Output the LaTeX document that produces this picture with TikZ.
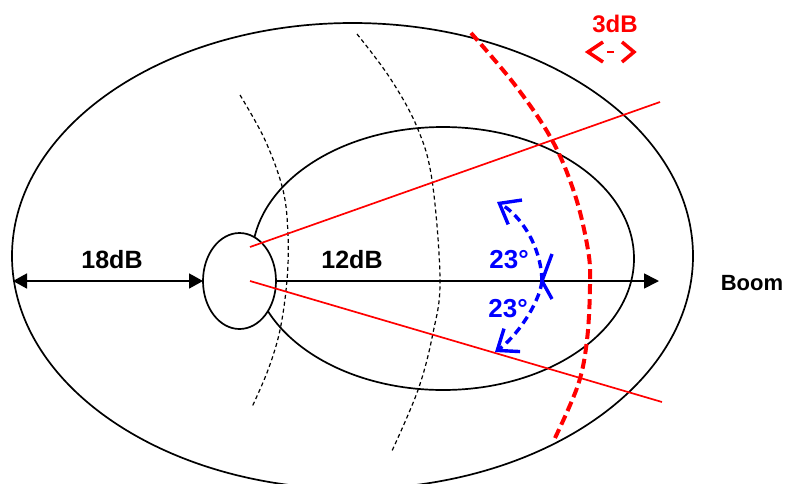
\documentclass[tikz,border=0pt]{standalone}
\usepackage{fontspec}
\setmainfont{Liberation Sans}
\usetikzlibrary{shapes.geometric,arrows.meta}
\tikzset{
  ell/.style={ellipse, draw=black, line width=1.7pt, inner sep=0pt, outer sep=0pt},
  blackdash/.style={draw=black, line width=1.2pt, dash pattern=on 4pt off 3pt},
  reddash/.style={draw=red, line width=4pt, dash pattern=on 10pt off 5pt},
  redline/.style={draw=red, line width=1.7pt},
  bluedash/.style={draw=blue, line width=3.4pt, dash pattern=on 8pt off 5pt, -{Straight Barb[length=18pt,width=28pt,line width=3.4pt]}},
  bluestroke/.style={draw=blue, line width=3.4pt},
  lbl/.style={font=\bfseries\fontsize{25}{25}\selectfont, anchor=base, inner sep=0pt}
}
\begin{document}
\begin{tikzpicture}[x=1pt,y=-1pt]
\clip (0,0) rectangle (787,483);
\fill[white] (0,0) rectangle (787,483);
% ellipses
\node[ell, minimum width=681pt, minimum height=466pt] (outer) at (352.5,256) {};
\node[ell, minimum width=382pt, minimum height=263pt] (inner) at (443,258.5) {};
% dashed arcs
\draw[blackdash] plot[smooth, tension=0.6] coordinates {(240,95) (265,140) (283,190) (288,235) (287,280) (280,330) (268,370) (252,407)};
\draw[blackdash] plot[smooth, tension=0.6] coordinates {(357,34) (390,78) (417,127) (432,180) (440,280) (433,333) (418,390) (391,453)};
\draw[reddash] plot[smooth, tension=0.6] coordinates {(471,33) (515,85) (552,140) (575,195) (588,250) (590,285) (587,340) (578,385) (555,438)};
% small ellipse
\node[ell, fill=white, minimum width=73pt, minimum height=96pt] (small) at (239.5,281) {};
% red lines
\coordinate (ua) at (250,247);
\coordinate (ub) at (660,102);
\coordinate (la) at (250,281);
\coordinate (lb) at (662,402);
\draw[redline] (ua) -- (ub);
\draw[redline] (la) -- (lb);
% boom arrow
\coordinate (boomtip) at (659,281);
\draw[line width=1.7pt, -{Triangle[length=15pt,width=15pt]}] (small.east) -- (boomtip);
% 18dB arrow
\coordinate (leftend) at (13,281);
\draw[line width=1.7pt, {Triangle[length=14pt,width=15pt]}-{Triangle[length=14pt,width=15pt]}] (leftend) -- (small.west);
% labels
\node[lbl] (l18) at (112,268) {18dB};
\node[lbl] (l12) at (352,268) {12dB};
\node[lbl, font=\bfseries\fontsize{22}{22}\selectfont] (boom) at (752,290) {Boom};
\node[lbl, text=red, font=\bfseries\fontsize{24}{24}\selectfont] (l3) at (615,32) {3dB};
\node[lbl, text=blue, font=\bfseries\fontsize{26}{26}\selectfont] (a1) at (509,268) {23°};
\node[lbl, text=blue, font=\bfseries\fontsize{26}{26}\selectfont] (a2) at (508,317) {23°};
% blue angle marks
\coordinate (v) at (542,281);
\coordinate (vt) at (552,254);
\coordinate (vb) at (552,299);
\draw[bluestroke] (vt) -- (v) -- (vb);
\coordinate (ut) at (497,202);
\coordinate (lt) at (495,352);
\draw[bluedash] (v) .. controls (541,245) and (520,215) .. (ut);
\draw[bluedash] (v) .. controls (539,305) and (515,338) .. (lt);
% 3dB symbol
\coordinate (s1) at (603,42);
\coordinate (s2) at (588,52);
\coordinate (s3) at (603,62);
\coordinate (s4) at (622,42);
\coordinate (s5) at (634,52);
\coordinate (s6) at (622,62);
\draw[red, line width=3.5pt] (s1) -- (s2) -- (s3);
\draw[red, line width=3.5pt] (s4) -- (s5) -- (s6);
\draw[red, line width=2.5pt] (607,52) -- (614,52);
\end{tikzpicture}
\end{document}
